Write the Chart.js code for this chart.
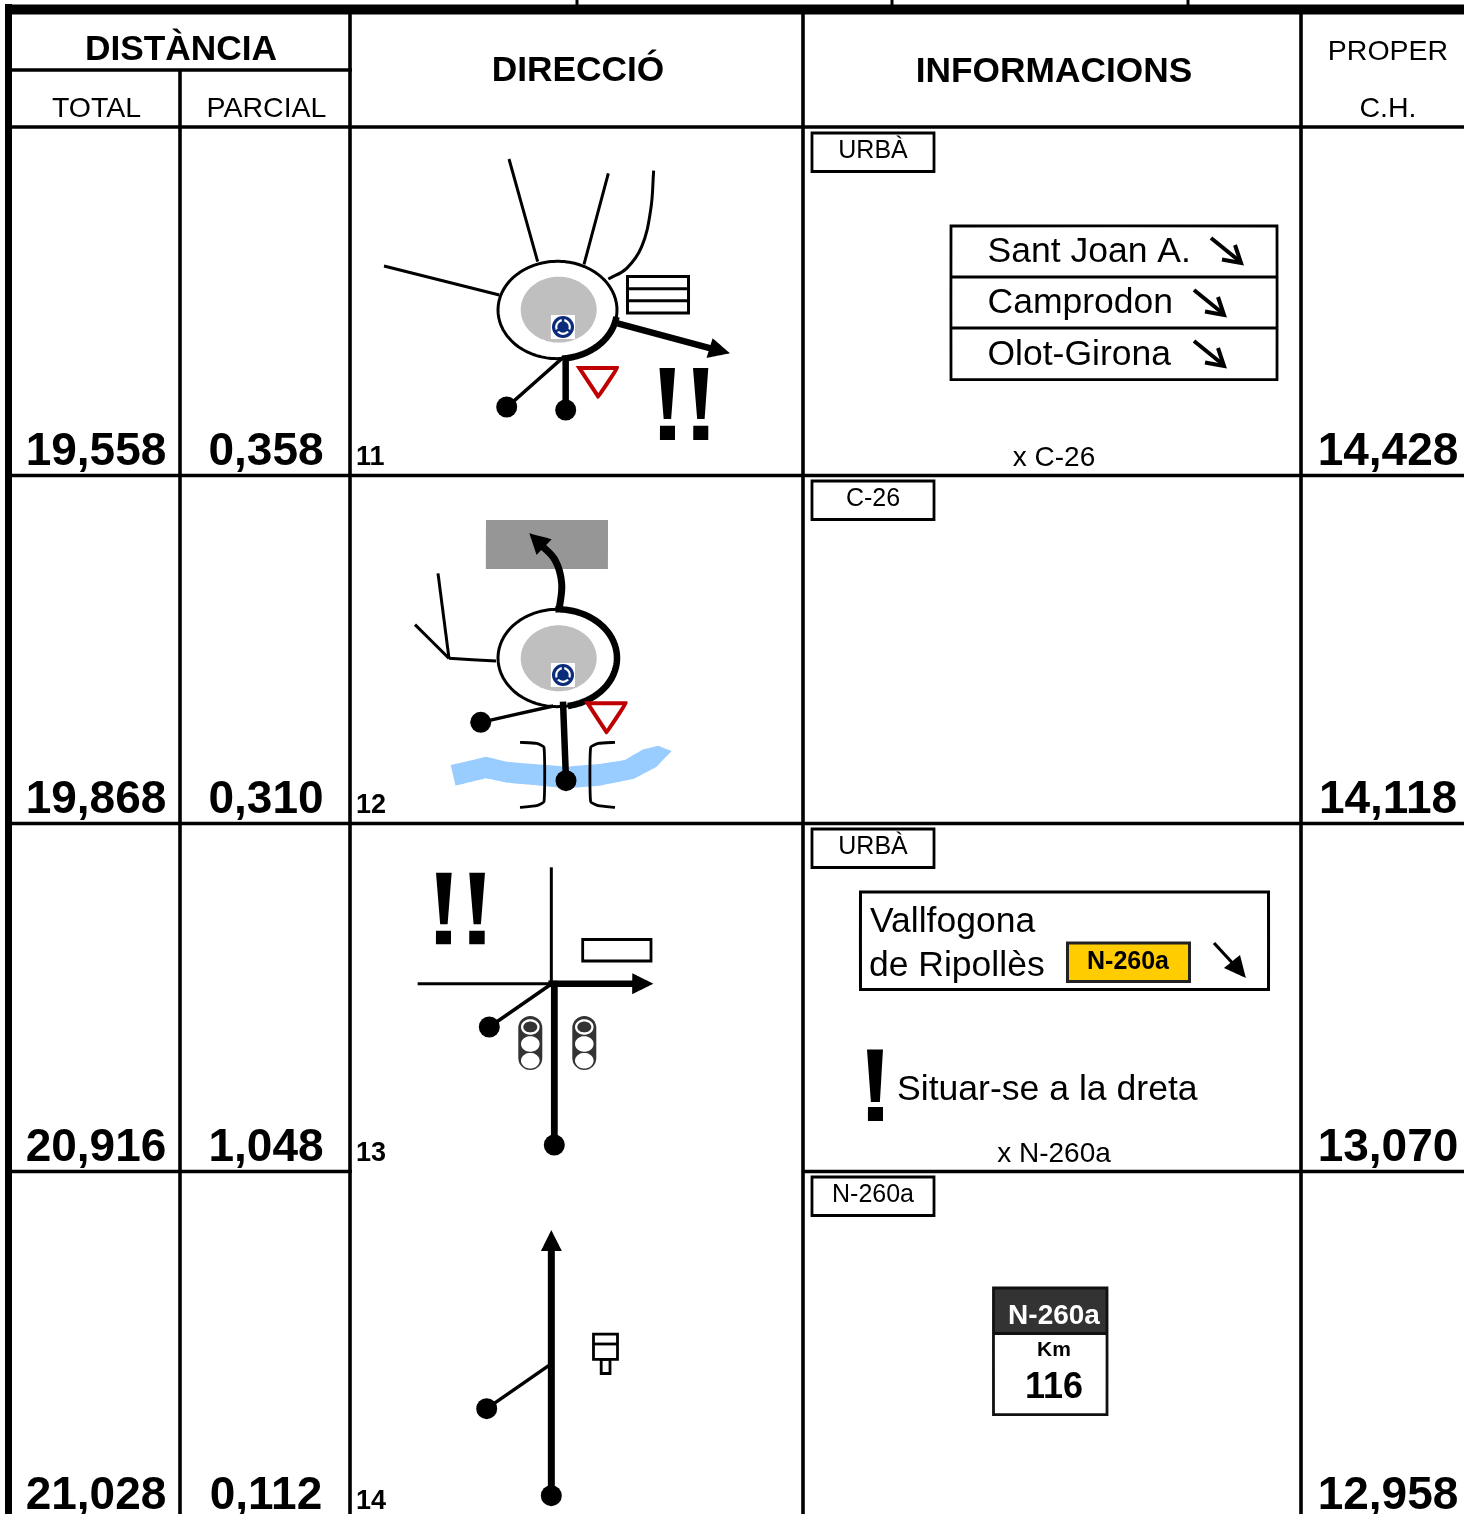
<!DOCTYPE html>
<html><head><meta charset="utf-8">
<script src="https://cdn.jsdelivr.net/npm/chart.js@4"></script>
<style>html,body{margin:0;padding:0;background:#fff}canvas{display:block}</style>
</head><body><canvas id="c" width="1464" height="1514"></canvas>
<script>
// --- values ---
const rowNumbers = ['11','12','13','14'];
const totals     = ['19,558','19,868','20,916','21,028'];
const partials   = ['0,358','0,310','1,048','0,112'];
const nextCH     = ['14,428','14,118','13,070','12,958'];
const roadTags   = ['URBÀ','C-26','URBÀ','N-260a'];
const headers    = ['DISTÀNCIA','DIRECCIÓ','INFORMACIONS'];
const subHeaders = ['TOTAL','PARCIAL','PROPER','C.H.'];
const signLines  = ['Sant Joan A.','Camprodon','Olot-Girona'];

// --- drawing helpers: every shape becomes a line dataset on the linear scales ---
const NAVY='#0B2C7A', RED='#C00000', K='#000', BLUE='#99CCFF';
const FINE=0.001; // a tiny tension keeps every vertex (no per-pixel path thinning)
const shapes=[];
const P=a=>{const o=[];for(let i=0;i<a.length;i+=2)o.push({x:a[i],y:a[i+1]});return o;};
const Z=(ox,oy,a)=>a.map((v,i)=>i%2?oy+v/3:ox+v/3);          // thirds-of-a-pixel crops → page units
const line=(a,w=3,c=K,extra={})=>shapes.push({data:P(a),borderColor:c,borderWidth:w,pointRadius:0,fill:false,tension:FINE,borderCapStyle:'butt',borderJoinStyle:'miter',...extra});
const poly=(a,c=K,extra={})=>shapes.push({data:P(a),borderColor:c,borderWidth:0,backgroundColor:c,pointRadius:0,fill:'shape',tension:FINE,...extra});
const dot=(x,y,r=10.5,c=K,extra={})=>shapes.push({data:[{x,y}],pointRadius:r,pointHoverRadius:r,pointBackgroundColor:c,pointBorderColor:c,pointBorderWidth:0,showLine:false,...extra});
const arcPts=(cx,cy,rx,ry,a0,a1,n=72)=>{const o=[];for(let i=0;i<=n;i++){const t=(a0+(a1-a0)*i/n)*Math.PI/180;o.push(cx+rx*Math.cos(t),cy+ry*Math.sin(t));}return o;};
const rect=(x0,y0,x1,y1,w=3,c=K,fillC=null)=>{const a=[x0,y0,x1,y0,x1,y1,x0,y1,x0,y0];
  if(fillC)poly(a,fillC);if(w>0)line([x0,y0,x1,y0,x1,y1,x0,y1,x0,y0,x1,y0],w,c);};
const bang=(xl,xr,top,midL,midR,bot,dl,dr,d0,d1)=>{poly([xl,top,xr,top,midR,bot,midL,bot,xl,top]);poly([dl,d0,dr,d0,dr,d1,dl,d1,dl,d0]);};
const roundaboutIcon=(cx,cy)=>{
  rect(cx-12,cy-12,cx+12,cy+12,0,'#fff','#fff');
  dot(cx,cy,11,NAVY);dot(cx,cy,6.8,NAVY,{pointBorderColor:'#fff',pointBorderWidth:2.2});
  line([cx,cy-9,cx,cy-2],2.4,NAVY);line([cx-8,cy+5,cx-2,cy+1],2.4,NAVY);line([cx+8,cy+5,cx+2,cy+1],2.4,NAVY);
  dot(cx,cy+.5,3.6,NAVY);
};

// --- table rules ---
const RULE=3.6;
[577,892,1188].forEach(x=>line([x,0,x,6],3));
line([5,9.5,1464,9.5],10);
line([8.5,4,8.5,1514],7);
[[350,14],[803,14],[1301,14],[180,70]].forEach(([x,y])=>line([x,y,x,1514],RULE));
line([12,70,352,70],RULE);
line([12,127,1464,127],RULE);
line([12,475.5,1464,475.5],RULE);
line([12,823.5,1464,823.5],RULE);
line([12,1171.5,352,1171.5],RULE);
line([803,1171.5,1464,1171.5],RULE);

// --- road-tag boxes ---
[133,481,829,1177].forEach(y=>rect(812,y,934,y+38.5,2.8));

// --- row 11 diagram ---
const rA=(a)=>Z(360,130,a);
line(rA([447,87,533,395]),3);
line(rA([745,130,672,403]),3);
line(rA([881,122,872,240,845,350,800,415,745,447]),3,K,{tension:.4});
line(rA([72,408,418,495]),3);
poly(arcPts(558.7,309.7,38,33,0,360),'#BFBFBF');
line(arcPts(557.5,310,59.5,48.7,0,362),3);
line(arcPts(557.5,310,59.5,48.7,8,85,30),6.5);
roundaboutIcon(563,327);
rect(627.5,276.5,688.5,313,3);line([627,288.7,689,288.7],3);line([627,300.8,689,300.8],3);
line(rA([773,580,1052,655]),6.5);
poly(rA([1110,670,1058,625,1040,684,1110,670]));
line(rA([617,680,617,840]),6.5);dot(565.7,410);
line(rA([612,680,440,832]),3.5);dot(506.7,407);
line(rA([658,714,772,714,715,800,658,714,772,714]),4,RED);
bang(659.5,675,368,663.8,671.2,419,660,675,425.7,440);
bang(693,708.3,368,697.3,704.7,419,693.3,708.3,425.7,440);

// --- row 12 diagram ---
const rB=(a)=>Z(360,480,a);
poly(rB([272,855,378,830,440,845,520,852,620,860,720,852,795,840,850,808,895,797,935,813,890,860,820,897,720,917,620,925,520,915,440,908,378,895,287,917,272,855]),BLUE);
poly([486,520,608,520,608,569,486,569,486,520],'#969696');
line(rB([597,392,605,310,585,240,540,192]),7,K,{tension:.4});
poly(rB([508,160,575,178,530,225,508,160]));
line(rB([234,280,267,535]),3);line(rB([165,434,267,535]),3);line(rB([267,535,408,543]),3);
poly(arcPts(558.7,658.3,38,33,0,360),'#BFBFBF');
line(arcPts(557.5,658,59.5,48.7,0,362),3);
line(arcPts(557.5,658,59.5,48.7,-92,80,60),6.5);
roundaboutIcon(563,675);
line(rB([362,727,580,678]),3.5);dot(480.7,722.3);
line(rB([609,665,618,900]),6.5);dot(566,780.7);
line(rB([683,670,798,670,740,757,683,670,798,670]),4,RED);
line(rB([480,787,530,790,552,802,552,965,530,977,480,982]),2.8,K,{tension:.15});
line(rB([765,787,715,790,692,802,692,965,715,977,765,982]),2.8,K,{tension:.15});

// --- row 13 diagram ---
const rC=(a)=>Z(360,830,a);
line(rC([574,112,574,460]),3);
line(rC([173,461,574,461]),3);
line(rC([565,461,820,461]),6.5);
poly(rC([817,430,880,461,817,492,817,430]));
line(rC([583,452,583,945]),6.8);
line(rC([388,591,574,462]),3.5);dot(489.3,1027);dot(554.3,1145);
rect(582.7,939.5,651,961,2.8);
bang(436,451.7,872.7,440.3,447.7,924.3,436,451,930.7,944.3);
bang(469.3,485,872.7,473.7,481,924.3,469.3,484.7,930.7,944.3);
[530.3,584.3].forEach(x=>{
  line([x,1028,x,1058],24,'#333',{borderCapStyle:'round'});
  poly(arcPts(x,1027,9.3,7.8,0,360,36),'#fff');poly(arcPts(x,1027,7,5.4,0,360,36),'#333');
  poly(arcPts(x,1044,9.3,7.8,0,360,36),'#fff');poly(arcPts(x,1060.7,9.3,7.8,0,360,36),'#fff');
});

// --- row 14 diagram ---
const rD=(a)=>Z(360,1175,a);
line(rD([574,225,574,962]),7);
poly(rD([574,165,606,228,543,228,574,165]));
line(rD([380,701,566,572]),3.5);dot(486.7,1408.7);dot(551.3,1495.7);
rect(593.5,1334.2,617.5,1359.3,2.8);line([593,1344,618,1344],2.8);
rect(601.2,1359.3,610,1373.5,2.8);

// --- signs ---
rect(951,226,1277,379.5,2.8);
line([951,277,1277,277],2.8);line([951,328,1277,328],2.8);
[[0,0],[-17,52],[-17,103]].forEach(([dx,dy])=>{
  line([1211+dx,238+dy,1240+dx,261.5+dy],4);
  line([1235+dx,245+dy,1241+dx,263+dy,1222+dx,259.5+dy],4);
});
rect(860.5,892,1268.5,989.5,3);
rect(1067.5,943,1189.5,981.5,3,'#222','#FFCC00');
line([1214,943,1238,969],3.2);
poly([1240,955,1246,978,1224,968,1240,955]);
bang(867,883,1049.5,871,880,1102,868,883,1107,1121);
poly([993.5,1288,1107,1288,1107,1333,993.5,1333,993.5,1288],'#333');
rect(993.5,1288,1107,1414.5,2.8,'#111');
line([993,1333.5,1107.5,1333.5],2.8,'#111');

// --- texts, built from the arrays above ---
const texts=[];
const T=(t,x,y,size,bold=false,align='center',color='#000')=>texts.push({t,x,y,size,bold,align,color});
T(headers[0],181,60,35.3,true);T(headers[1],578,81,35.3,true);T(headers[2],1054,82,35.3,true);
T(subHeaders[0],96.5,117,28.5);T(subHeaders[1],266.5,117,28.5);T(subHeaders[2],1388,60,28.5);T(subHeaders[3],1388,117,28.5);
const baselines=[464.5,812.5,1160.5,1508.5];
baselines.forEach((y,i)=>{
  T(totals[i],96,y,46,true);T(partials[i],266,y,46,true);T(nextCH[i],1388,y,46,true);
  T(rowNumbers[i],356,y,27,true,'left');
});
[158,506,854,1202].forEach((y,i)=>T(roadTags[i],873,y,25));
[262,313,365].forEach((y,i)=>T(signLines[i],987.5,y,35.5,false,'left'));
T('x C-26',1054,466,28);T('x N-260a',1054,1162,28);
T('Vallfogona',870,932,35.5,false,'left');T('de Ripollès',869,976,35.5,false,'left');
T('N-260a',1128,969,25,true);
T('Situar-se a la dreta',897,1100,35.6,false,'left');
T('N-260a',1054,1324,28,true,'center','#fff');T('Km',1054,1356,21,true);T('116',1054,1398,36,true);

const textPlugin={id:'labels',afterDatasetsDraw(ch){
  const {ctx,scales:{x,y}}=ch;ctx.save();ctx.textBaseline='alphabetic';
  texts.forEach(o=>{ctx.font=`${o.bold?'bold ':''}${o.size}px "Liberation Sans", Arial, sans-serif`;
    ctx.textAlign=o.align;ctx.fillStyle=o.color;ctx.fillText(o.t,x.getPixelForValue(o.x),y.getPixelForValue(o.y));});
  ctx.restore();}};

new Chart(document.getElementById('c'),{
  type:'line',
  data:{datasets:shapes.slice().reverse().map(d=>({clip:false,spanGaps:true,...d}))},
  options:{responsive:false,animation:false,events:[],devicePixelRatio:1,
    layout:{padding:0,autoPadding:false},
    plugins:{legend:{display:false},tooltip:{enabled:false},title:{display:false}},
    scales:{x:{type:'linear',min:0,max:1464,display:false},y:{type:'linear',min:0,max:1514,reverse:true,display:false}}},
  plugins:[textPlugin]
});
</script></body></html>
